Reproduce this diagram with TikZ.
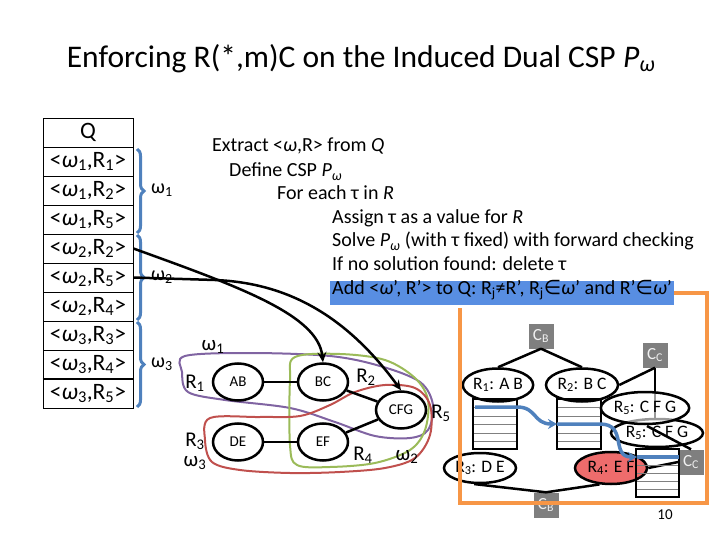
\documentclass[tikz,border=0pt]{standalone}
\usepackage{fontspec}
\setmainfont{Carlito}
\newfontfamily\symfont{DejaVu Sans}
\usetikzlibrary{shapes.geometric,arrows.meta,decorations.pathreplacing}
\definecolor{obrace}{RGB}{79,129,189}
\definecolor{opurple}{RGB}{128,100,162}
\definecolor{ogreen}{RGB}{155,187,89}
\definecolor{ored}{RGB}{192,80,77}
\definecolor{oorange}{RGB}{247,150,70}
\definecolor{ohl}{RGB}{88,142,226}
\definecolor{ogray}{RGB}{127,127,127}
\definecolor{opink}{RGB}{238,108,108}
\newcommand\sbs[1]{\textsubscript{#1}}
\begin{document}
\begin{tikzpicture}[x=1pt,y=-1pt,
  every node/.style={inner sep=0pt},
  cell/.style={draw, line width=0.8pt, minimum width=90pt, minimum height=29pt, font=\fontsize{23.5}{27}\selectfont},
  hyp/.style={ellipse, draw, line width=2.5pt, fill=white, minimum width=50pt, minimum height=37pt, font=\fontsize{15}{18}\selectfont},
  rel/.style={ellipse, draw, line width=2.5pt, fill=white, minimum height=33pt, font=\fontsize{17.5}{20}\selectfont},
  gbox/.style={fill=ogray, minimum size=25pt, text=white!88!gray, font=\fontsize{17}{20}\selectfont},
  tline/.style={anchor=base west, font=\fontsize{20}{24}\selectfont},
  lbl/.style={font=\fontsize{21}{25}\selectfont},
  blab/.style={anchor=west, font=\fontsize{20}{24}\selectfont},
  bracestyle/.style={draw=obrace, line width=3pt, decorate, decoration={brace, amplitude=7pt}},
  hull/.style={line width=2pt},
  blk/.style={line width=2.5pt},
  arr/.style={line width=2.5pt, -{Stealth[length=10pt,width=9pt]}},
  barr/.style={draw=obrace, line width=3.5pt, -{Stealth[length=9pt,width=10pt]}},
  gline/.style={draw=gray, line width=1pt}
]
\useasboundingbox (0,0) rectangle (720,540);

% title
\node[anchor=base] (title) at (361,68) {\fontsize{31.5}{36}\selectfont Enforcing R(*,m)C on the Induced Dual CSP \textit{P}\sbs{\textit{ω}}};

% table Q
\node[cell] (q0) at (88,132.5) {Q};
\node[cell] (q1) at (88,161.5) {<\textit{ω}\sbs{1},R\sbs{1}>};
\node[cell] (q2) at (88,190.5) {<\textit{ω}\sbs{1},R\sbs{2}>};
\node[cell] (q3) at (88,219.5) {<\textit{ω}\sbs{1},R\sbs{5}>};
\node[cell] (q4) at (88,248.5) {<\textit{ω}\sbs{2},R\sbs{2}>};
\node[cell] (q5) at (88,277.5) {<\textit{ω}\sbs{2},R\sbs{5}>};
\node[cell] (q6) at (88,306.5) {<\textit{ω}\sbs{2},R\sbs{4}>};
\node[cell] (q7) at (88,335.5) {<\textit{ω}\sbs{3},R\sbs{3}>};
\node[cell] (q8) at (88,364.5) {<\textit{ω}\sbs{3},R\sbs{4}>};
\node[cell] (q9) at (88,393.5) {<\textit{ω}\sbs{3},R\sbs{5}>};
\draw[line width=2pt] (q9.north west) -- (q9.north east);

% braces
\draw[bracestyle] (137,149) -- (137,233);
\draw[bracestyle] (137,235) -- (137,320);
\draw[bracestyle] (137,322) -- (137,407);
\node[blab] (bw1) at (151,190) {ω\sbs{1}};
\node[blab] (bw2) at (151,277) {ω\sbs{2}};
\node[blab] (bw3) at (151,364) {ω\sbs{3}};

% algorithm text
\node[tline] (t1) at (212,152) {Extract <\textit{ω},R> from \textit{Q}};
\node[tline] (t2) at (229,177) {Define CSP \textit{P}\sbs{\textit{ω}}};
\node[tline] (t3) at (277,200) {For each τ in \textit{R}};
\node[tline] (t4) at (332,224) {Assign τ as a value for \textit{R}};
\node[tline] (t5) at (332,247) {Solve \textit{P}\sbs{\textit{ω}} (with τ fixed) with forward checking};
\node[tline] (t6) at (332,270) {If no solution found: delete τ};
\node[tline, fill=ohl, inner xsep=2pt, inner ysep=1pt, text height=12pt, text depth=10pt] (add) at (330,294) {Add <\textit{ω}’, R’> to Q: R\sbs{j}≠R’, R\sbs{j}{\symfont ∈}\textit{ω}’ and R’{\symfont ∈}\textit{ω}’};

% hulls
\draw[hull, opurple] plot[smooth cycle, tension=0.55] coordinates {(185,356) (250,353) (330,356) (380,366) (420,382) (433,405) (428,430) (410,438) (375,436) (335,422) (290,408) (225,400) (188,392) (182,372)};
\draw[hull, ogreen] plot[smooth cycle, tension=0.55] coordinates {(295,357) (340,354) (385,360) (415,378) (428,400) (425,430) (410,450) (375,463) (330,467) (297,465) (290,445) (290,380)};
\draw[hull, ored] plot[smooth cycle, tension=0.55] coordinates {(210,418) (260,417) (300,416) (330,405) (355,392) (385,385) (415,388) (430,405) (430,435) (415,458) (385,468) (340,472) (290,473) (240,470) (212,462) (205,440)};

% hypergraph nodes
\node[hyp] (ab) at (238,382) {AB};
\node[hyp] (bc) at (323,382) {BC};
\node[hyp] (cfg) at (401,410) {CFG};
\node[hyp] (de) at (238,442) {DE};
\node[hyp] (ef) at (323,442) {EF};
\draw[blk] (ab) -- (bc);
\draw[blk] (de) -- (ef);
\draw[blk] (bc) -- (cfg);
\draw[blk] (ef) -- (cfg);

\node[lbl] (lw1) at (213,347) {ω\sbs{1}};
\node[lbl] (lr1) at (195,383) {R\sbs{1}};
\node[lbl] (lr2) at (366,377) {R\sbs{2}};
\node[lbl] (lr5) at (441,413) {R\sbs{5}};
\node[lbl] (lr3) at (195,441) {R\sbs{3}};
\node[lbl] (lw3) at (195,463) {ω\sbs{3}};
\node[lbl] (lr4) at (363,455) {R\sbs{4}};
\node[lbl] (lw2) at (407,457) {ω\sbs{2}};

% arrows from Q
\draw[arr] (q4.east) .. controls (240,287) and (318,315) .. (bc.north);
\draw[arr] (q5.east) -- (215,280) .. controls (290,283) and (348,318) .. (cfg.north);

% right diagram
\node[rel, minimum width=92pt, minimum height=28pt] (r5b) at (657,433) {R\sbs{5}: C F G};
\node[gbox] (cbt) at (541,336) {C\sbs{B}};
\node[gbox] (cct) at (655,355) {C\sbs{C}};
\node[gbox] (ccb) at (691,462) {C\sbs{C}};
\node[gbox] (cbb) at (546,505) {C\sbs{B}};
\node[rel, minimum width=70pt] (r1) at (498,385) {R\sbs{1}: A B};
\node[rel, minimum width=72pt] (r2) at (582,385) {R\sbs{2}: B C};
\node[rel, minimum width=72pt, minimum height=30pt] (r3) at (480,468) {R\sbs{3}: D E};
\node[rel, minimum width=72pt, minimum height=32pt, fill=opink] (r4) at (611,468) {R\sbs{4}: E F};
\draw[blk] (cbt.south) -- (r1.north);
\draw[blk] (cbt.south) -- (r2.north);
\draw[blk] (cct.south) -- (r2.east);
\draw[blk] (cct.south) -- (cct.south |- r5b.north);
\draw[blk] (cbb.north) -- (r3.250);
\draw[blk] (cbb.north) -- (r4.235);
\draw[blk] (ccb.west) -- (r4.east);
\node[rel, minimum width=88pt, minimum height=32pt, fill=white, fill opacity=0.6, text opacity=1] (r5a) at (645,408) {R\sbs{5}: C F G};
\coordinate (r5x) at (647,426);
\draw[blk] (ccb.north) -- (r5x);

% tuple tables
\foreach \x in {473,557}{
  \foreach \yy in {407.5,416,424.5,433,441.5}{\draw[gline] (\x,\yy) -- (\x+44,\yy);}
  \draw[line width=2.5pt] (\x,399) rectangle (\x+44,449);
}
\foreach \yy in {457,465,473,481,489}{\draw[gline] (636,\yy) -- (679,\yy);}
\draw[line width=2.5pt] (636,449) rectangle (679,497);

% blue arrows
\draw[barr] (475,407) -- (517,407) .. controls (537,407) and (533,424) .. (557,424);
\draw[barr] (557,424) -- (600,424) .. controls (628,424) and (610,457) .. (637,457);
\draw[draw=obrace, line width=3.5pt] (637,457) -- (679,457);

% orange frame
\draw[oorange, line width=4pt] (add.east) -| (707,503) -- (460,503) -- (460,308);

\node[font=\fontsize{15}{18}\selectfont] (pg) at (665,515) {10};
\end{tikzpicture}
\end{document}
